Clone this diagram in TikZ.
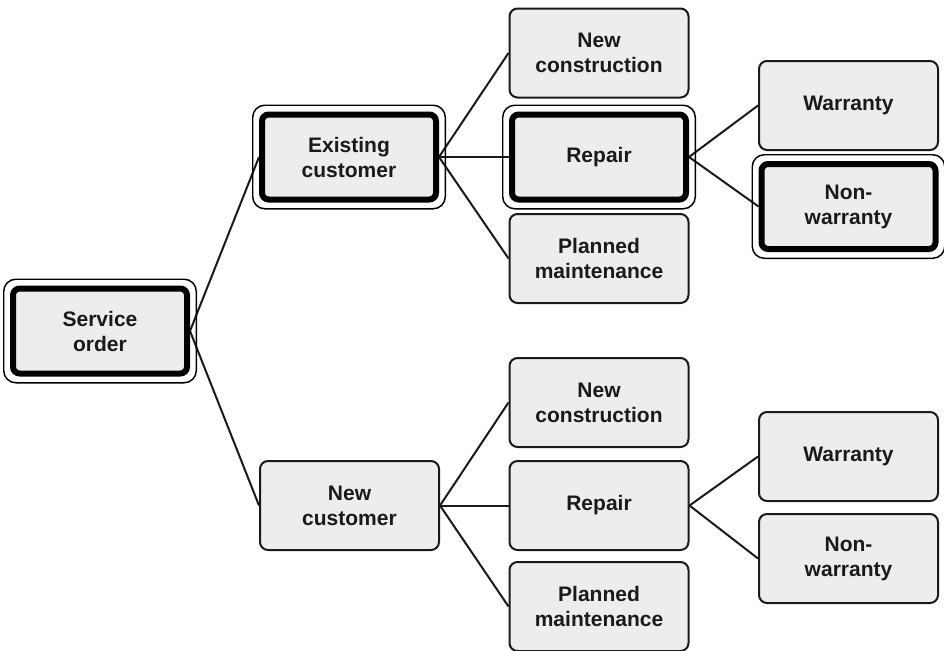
\documentclass[tikz,border=0pt]{standalone}
\usepackage{fontspec}
\setmainfont{Liberation Sans}
\usetikzlibrary{fit,backgrounds}
\definecolor{boxfill}{HTML}{EDEDED}
\definecolor{ink}{HTML}{1A1A1A}
\tikzset{
  every node/.style={font=\bfseries\fontsize{15.75}{18.75}\selectfont, text=ink, align=center},
  plainbox/.style={draw=ink, line width=1.5pt, fill=boxfill, rounded corners=6pt,
    minimum width=134.25pt, minimum height=66.75pt, inner sep=0pt},
  keybox/.style={draw=black, line width=4.5pt, fill=boxfill, rounded corners=5pt,
    minimum width=130.5pt, minimum height=63.75pt, inner sep=0pt},
  ring/.style={draw=black, line width=1.1pt, rounded corners=9pt, inner sep=4.7pt, fill=none},
  link/.style={draw=ink, line width=1.5pt},
}
\begin{document}
\begin{tikzpicture}[x=0.75pt,y=-0.75pt]
  \useasboundingbox (0,0) rectangle (944,650);

  % root
  \node[keybox] (so) at (100,331) {Service\\order};
  \node[ring, fit=(so)] (so-ring) {};

  % existing customer branch
  \node[keybox] (ec) at (349,157) {Existing\\customer};
  \node[ring, fit=(ec)] (ec-ring) {};
  \node[plainbox] (ec-nc) at (599,53) {New\\construction};
  \node[keybox] (ec-rp) at (599,157) {Repair};
  \node[ring, fit=(ec-rp)] (ec-rp-ring) {};
  \node[plainbox] (ec-pm) at (599,258.5) {Planned\\maintenance};
  \node[plainbox] (ec-w) at (848.5,105.5) {Warranty};
  \node[keybox] (ec-nw) at (848.5,206.5) {Non-\\warranty};
  \node[ring, fit=(ec-nw)] (ec-nw-ring) {};

  % new customer branch
  \node[plainbox] (nc) at (349.5,505.5) {New\\customer};
  \node[plainbox] (nc-nc) at (599,402.5) {New\\construction};
  \node[plainbox] (nc-rp) at (599,505.5) {Repair};
  \node[plainbox] (nc-pm) at (599,606.5) {Planned\\maintenance};
  \node[plainbox] (nc-w) at (848.5,456.5) {Warranty};
  \node[plainbox] (nc-nw) at (848.5,558.5) {Non-\\warranty};

  % connectors, kept behind the boxes
  \begin{scope}[on background layer]
    \fill[white] (0,0) rectangle (944,650);
    \draw[link] (so.east) -- (ec.west);
    \draw[link] (so.east) -- (nc.west);
    \draw[link] (ec.east) -- (ec-nc.west);
    \draw[link] (ec.east) -- (ec-rp.west);
    \draw[link] (ec.east) -- (ec-pm.west);
    \draw[link] (ec-rp.east) -- (ec-w.west);
    \draw[link] (ec-rp.east) -- (ec-nw.west);
    \draw[link] (nc.east) -- (nc-nc.west);
    \draw[link] (nc.east) -- (nc-rp.west);
    \draw[link] (nc.east) -- (nc-pm.west);
    \draw[link] (nc-rp.east) -- (nc-w.west);
    \draw[link] (nc-rp.east) -- (nc-nw.west);
  \end{scope}
\end{tikzpicture}
\end{document}
